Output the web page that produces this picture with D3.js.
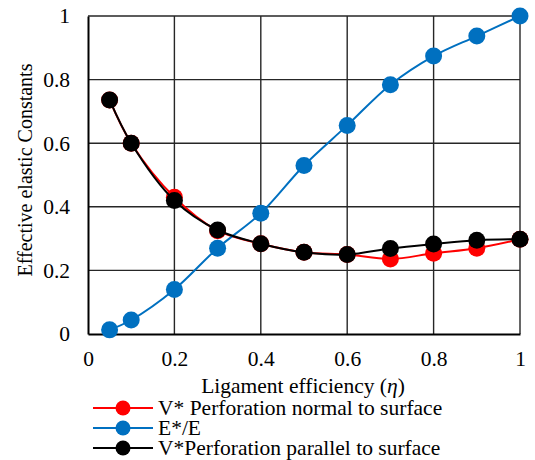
<!DOCTYPE html>
<html>
<head>
<meta charset="utf-8">
<script src="https://cdn.jsdelivr.net/npm/d3@7/dist/d3.min.js"></script>
<style>
  html, body { margin: 0; padding: 0; background: #fff; }
  svg { display: block; }
  text { font-family: "Liberation Serif", "Times New Roman", Times, serif; fill: #000; }
</style>
</head>
<body>
<svg id="chart" width="535" height="460"></svg>
<script>
// Ligament efficiency values (x)
const eta = [0.05, 0.1, 0.2, 0.3, 0.4, 0.5, 0.6, 0.7, 0.8, 0.9, 1.0];

// Effective elastic constants
const vNormal   = [0.736, 0.60, 0.43, 0.325, 0.284, 0.257, 0.25, 0.236, 0.254, 0.27, 0.298];
const eRatio    = [0.013, 0.044, 0.14, 0.27, 0.38, 0.53, 0.656, 0.784, 0.874, 0.937, 1.0];
const vParallel = [0.736, 0.60, 0.42, 0.327, 0.284, 0.257, 0.25, 0.269, 0.283, 0.295, 0.298];

const seriesNames = ["V* Perforation normal to surface", "E*/E", "V*Perforation parallel to surface"];
const seriesColors = ["#FF0000", "#0070C0", "#000000"];

const xTicks = [0, 0.2, 0.4, 0.6, 0.8, 1];
const yTicks = [0, 0.2, 0.4, 0.6, 0.8, 1];

const svg = d3.select("#chart");
const m = { left: 88, top: 16, right: 520, bottom: 334 };
const labelSize = 21.5;

const x = d3.scaleLinear().domain([0, 1]).range([m.left, m.right]);
const y = d3.scaleLinear().domain([0, 1]).range([m.bottom, m.top]);

// grid
const grid = svg.append("g");
grid.selectAll("line.h").data(yTicks.filter(d => d > 0)).join("line")
  .attr("x1", m.left).attr("x2", m.right)
  .attr("y1", d => y(d)).attr("y2", d => y(d))
  .attr("stroke", "#262626").attr("stroke-width", 1.4);
grid.selectAll("line.v").data(xTicks.filter(d => d > 0)).join("line")
  .attr("y1", m.top).attr("y2", m.bottom)
  .attr("x1", d => x(d)).attr("x2", d => x(d))
  .attr("stroke", "#262626").attr("stroke-width", 1.4);

// axes
const xAxis = d3.axisBottom(x).tickValues(xTicks).tickSize(0).tickPadding(17)
  .tickFormat(d => d3.format("")(d));
const yAxis = d3.axisLeft(y).tickValues(yTicks).tickSize(0).tickPadding(18)
  .tickFormat(d => d3.format("")(d));

const gx = svg.append("g").attr("transform", `translate(0,${m.bottom})`).call(xAxis);
const gy = svg.append("g").attr("transform", `translate(${m.left},0)`).call(yAxis);
[gx, gy].forEach(g => {
  g.attr("font-family", null);
  g.select(".domain").attr("stroke", "#000").attr("stroke-width", 2);
  g.selectAll("text").attr("font-size", labelSize).attr("fill", "#000");
});

// axis titles
svg.append("text")
  .attr("x", 303).attr("y", 393)
  .attr("text-anchor", "middle").attr("font-size", labelSize)
  .html('Ligament efficiency (<tspan font-style="italic">η</tspan>)');

svg.append("text")
  .attr("transform", "translate(32,170) rotate(-90)")
  .attr("text-anchor", "middle").attr("font-size", 20)
  .text("Effective elastic Constants");

// series
const data = [vNormal, eRatio, vParallel];
const line = d3.line()
  .x((d, i) => x(eta[i]))
  .y(d => y(d))
  .curve(d3.curveCatmullRom.alpha(0.5));

data.forEach((vals, s) => {
  const g = svg.append("g");
  g.append("path").datum(vals)
    .attr("d", line)
    .attr("fill", "none")
    .attr("stroke", seriesColors[s])
    .attr("stroke-width", 2);
  g.selectAll("circle").data(vals).join("circle")
    .attr("cx", (d, i) => x(eta[i]))
    .attr("cy", d => y(d))
    .attr("r", 8.5)
    .attr("fill", seriesColors[s]);
});

// legend
const legend = svg.append("g");
seriesNames.forEach((name, i) => {
  const yy = 408 + i * 20;
  legend.append("line")
    .attr("x1", 93).attr("x2", 153).attr("y1", yy).attr("y2", yy)
    .attr("stroke", seriesColors[i]).attr("stroke-width", 2);
  legend.append("circle")
    .attr("cx", 123).attr("cy", yy).attr("r", 7.5)
    .attr("fill", seriesColors[i]);
  legend.append("text")
    .attr("x", 158).attr("y", yy + 7)
    .attr("font-size", labelSize)
    .text(name);
});
</script>
</body>
</html>
